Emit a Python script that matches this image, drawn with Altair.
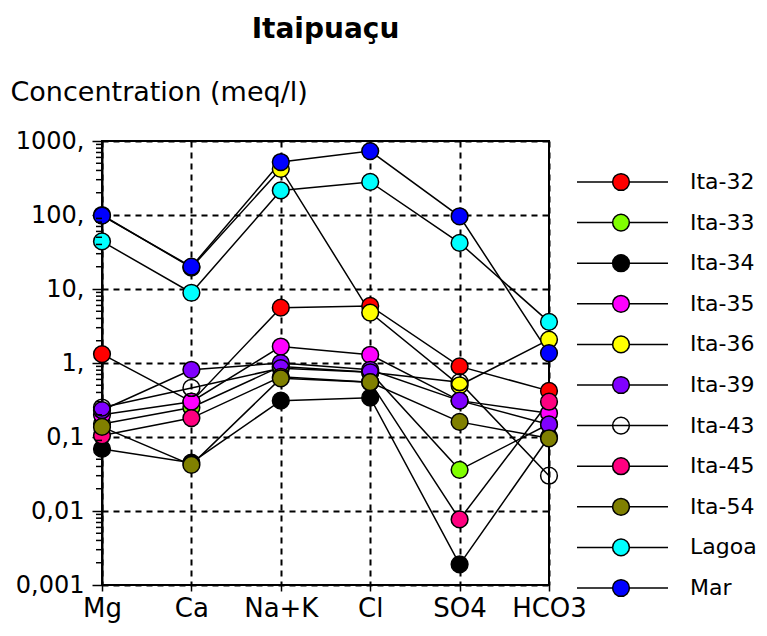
import altair as alt
import pandas as pd

ions = ["Mg", "Ca", "Na+K", "Cl", "SO4", "HCO3"]
series_names = ["Ita-32", "Ita-33", "Ita-34", "Ita-35", "Ita-36", "Ita-39",
                "Ita-43", "Ita-45", "Ita-54", "Lagoa", "Mar"]
fill_colors = ["#FF0000", "#80FF00", "#000000", "#FF00FF", "#FFFF00", "#8000FF",
               "transparent", "#FF0080", "#808000", "#00FFFF", "#0000FF"]

ita32 = [1.32, 0.30, 5.6, 5.9, 0.9, 0.42]
ita33 = [0.15, 0.25, 0.9, 0.75, 0.036, 0.15]
ita34 = [0.069, 0.045, 0.31, 0.34, 0.0019, 0.10]
ita35 = [0.20, 0.30, 1.67, 1.29, 0.31, 0.21]
ita36 = [100, 19.5, 420, 4.8, 0.5, 2.07]
ita39 = [0.23, 0.81, 1.0, 0.81, 0.31, 0.148]
ita43 = [0.25, 0.46, 0.85, 0.75, 0.55, 0.030]
ita45 = [0.105, 0.18, 0.65, 0.55, 0.0077, 0.30]
ita54 = [0.137, 0.042, 0.62, 0.55, 0.16, 0.096]
lagoa = [44, 8.9, 215, 280, 42, 3.6]
mar = [98, 20, 520, 730, 96, 1.36]

all_values = [ita32, ita33, ita34, ita35, ita36, ita39, ita43, ita45, ita54, lagoa, mar]

y_ticks = [0.001, 0.01, 0.1, 1, 10, 100, 1000]
minor_ticks = [m * t for t in [0.001, 0.01, 0.1, 1, 10, 100] for m in range(2, 10)]

rows = []
for s, vals in zip(series_names, all_values):
    for i, (ion, v) in enumerate(zip(ions, vals)):
        rows.append({"series": s, "ion": ion, "value": v, "idx": i})
df = pd.DataFrame(rows)
leg_df = pd.DataFrame({"series": series_names})
minor_df = pd.DataFrame({"v": minor_ticks})

FONT = "DejaVu Sans"

xenc = alt.X("ion:N", sort=ions,
             scale=alt.Scale(domain=ions, type="point", padding=0),
             axis=alt.Axis(title=None, labelAngle=0, labelFont=FONT, labelFontSize=26,
                           labelColor="black", tickColor="black", tickSize=6, tickWidth=1.5,
                           labelPadding=4, domain=False, grid=True, gridColor="black",
                           gridDash=[6, 5], gridWidth=2, gridOpacity=1))

yscale = alt.Scale(type="log", domain=[0.001, 1000], nice=False)

lines = alt.Chart(df).mark_line(color="black", strokeWidth=1.5).encode(
    x=xenc,
    y=alt.Y("value:Q", scale=yscale,
            axis=alt.Axis(values=y_ticks, title="Concentration (meq/l)",
                          titleAngle=0, titleAlign="left", titleBaseline="middle",
                          titleX=-92, titleY=-49, titleFont=FONT, titleFontSize=27,
                          titleFontWeight="normal", titleColor="black",
                          labelExpr="datum.value >= 1 ? format(datum.value, 'd') + ',' : replace(format(datum.value, '~g'), '.', ',')",
                          labelFont=FONT, labelFontSize=24, labelColor="black",
                          labelPadding=8, tickSize=10, tickColor="black", tickWidth=1.5,
                          domainColor="black", domainWidth=2,
                          grid=True, gridColor="black", gridDash=[6, 5],
                          gridWidth=2, gridOpacity=1)),
    detail="series:N",
    order="idx:Q",
)

points = alt.Chart(df).mark_point(filled=True, shape="circle", size=280,
                                  stroke="black", strokeWidth=1.5, opacity=1).encode(
    x=xenc,
    y=alt.Y("value:Q", scale=yscale, axis=None),
    fill=alt.Fill("series:N", scale=alt.Scale(domain=series_names, range=fill_colors),
                  legend=None),
)

minor = alt.Chart(minor_df).mark_rule(color="black", strokeWidth=1.5).encode(
    y=alt.Y("v:Q", scale=yscale, axis=None),
    x=alt.value(-6),
    x2=alt.value(0),
)

ly = alt.Y("series:N", sort=series_names,
           scale=alt.Scale(domain=series_names, range=[41, 447], type="point", padding=0),
           axis=None)

leg_lines = alt.Chart(leg_df).mark_rule(color="black", strokeWidth=1.5).encode(
    y=ly, x=alt.value(475), x2=alt.value(566))
leg_points = alt.Chart(leg_df).mark_point(filled=True, shape="circle", size=280,
                                          stroke="black", strokeWidth=1.5, opacity=1).encode(
    y=ly, x=alt.value(519),
    fill=alt.Fill("series:N", scale=alt.Scale(domain=series_names, range=fill_colors),
                  legend=None))
leg_text = alt.Chart(leg_df).mark_text(align="left", baseline="middle", font=FONT,
                                       fontSize=22, color="black").encode(
    y=ly, x=alt.value(588), text="series:N")

chart = alt.layer(lines, points, minor, leg_lines, leg_points, leg_text).resolve_scale(
    y="independent"
).properties(
    width=447,
    height=444,
    title=alt.TitleParams("Itaipuaçu", font=FONT, fontSize=28, fontWeight="bold",
                          color="black", anchor="middle", offset=34),
    autosize=alt.AutoSizeParams(type="none"),
    padding={"left": 94, "top": 133, "right": 210, "bottom": 40},
    background="white",
).configure_view(stroke="black", strokeWidth=2)

chart.save("out.html", embed_options={"renderer": "svg", "actions": False})
